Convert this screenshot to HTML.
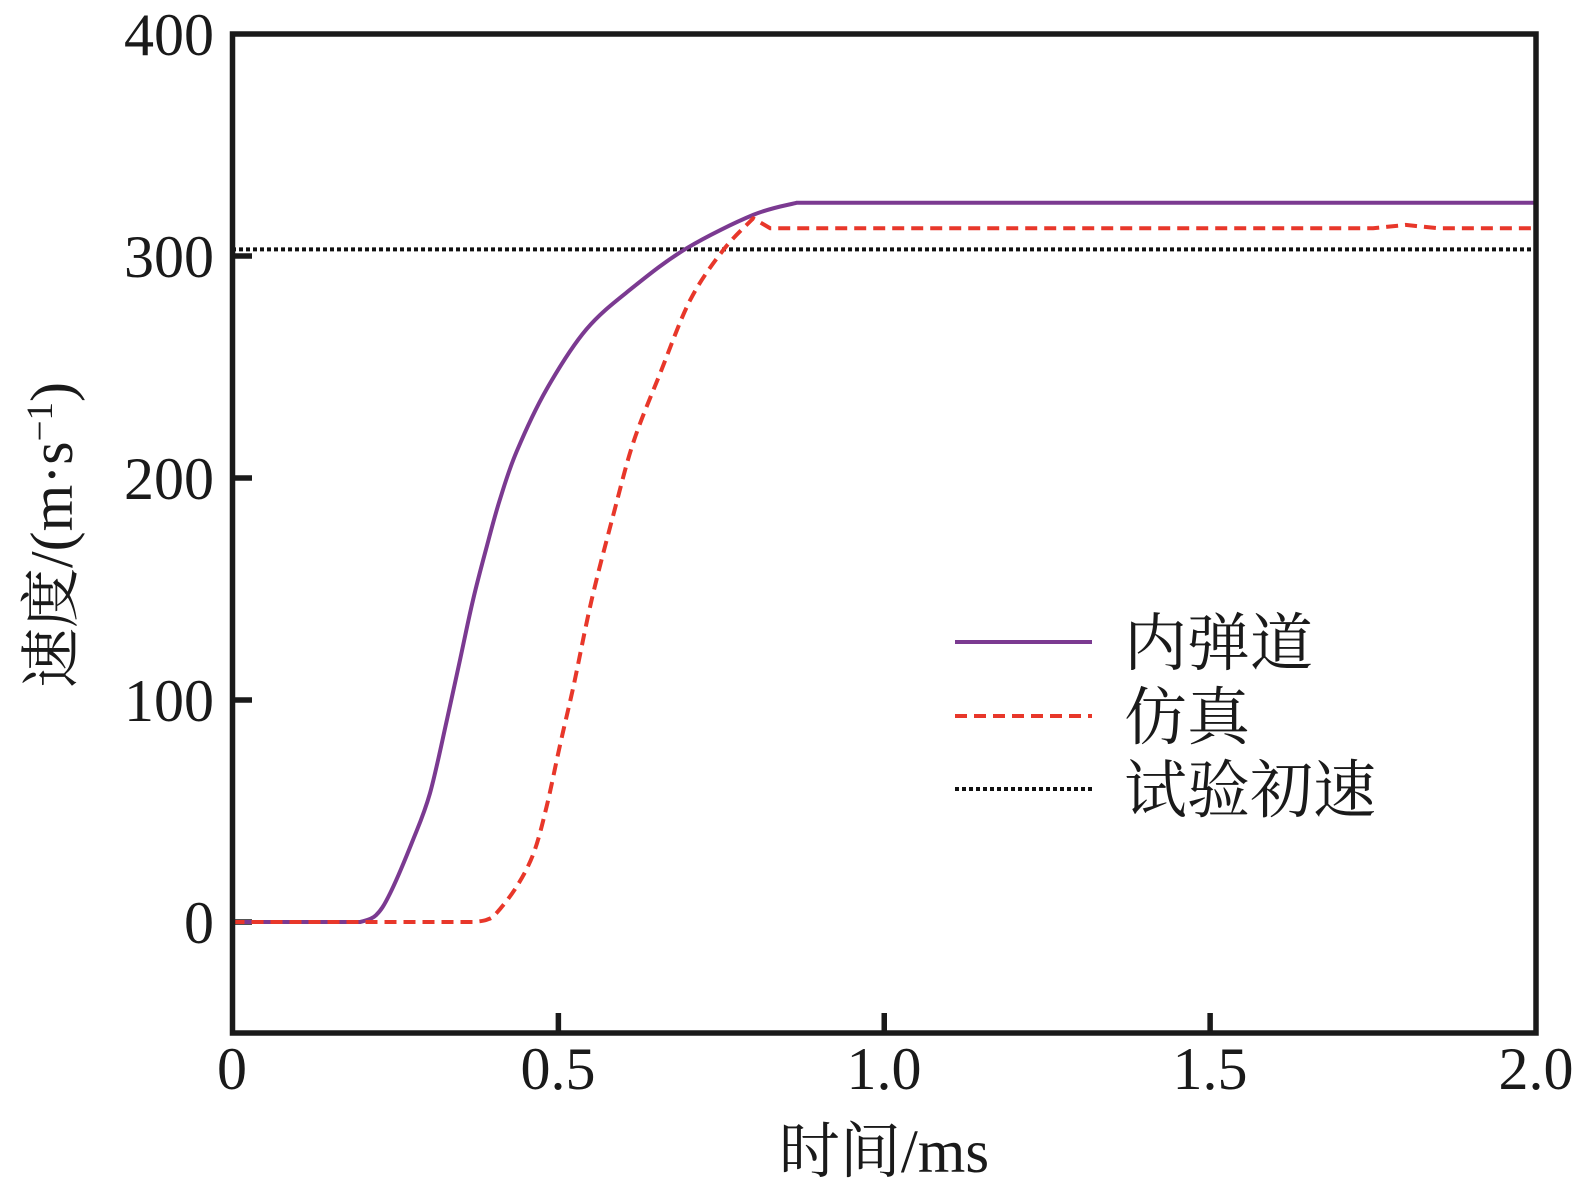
<!DOCTYPE html>
<html><head><meta charset="utf-8"><style>
body{margin:0;background:#fff}
svg{display:block}
text{font-family:"Liberation Serif","Noto Serif CJK SC",serif;fill:#1a1a1a}
</style></head><body>
<svg id="s" width="1592" height="1190" viewBox="0 0 1592 1190" xmlns="http://www.w3.org/2000/svg">
<g id="g"></g>
<rect x="232.5" y="34" width="1303.5" height="999" fill="none" stroke="#1a1a1a" stroke-width="5.5"/>
<g font-size="60" text-anchor="end">
<text x="214" y="55">400</text>
<text x="214" y="277">300</text>
<text x="214" y="499">200</text>
<text x="214" y="721">100</text>
<text x="214" y="943">0</text>
</g>
<g font-size="60" text-anchor="middle">
<text x="232" y="1089">0</text>
<text x="558" y="1089">0.5</text>
<text x="884" y="1089">1.0</text>
<text x="1210" y="1089">1.5</text>
<text x="1536" y="1089">2.0</text>
<text x="884" y="1172" font-size="61">时间/ms</text>
</g>
<text font-size="60" text-anchor="middle" transform="translate(72,535) rotate(-90)">速度/(m·s<tspan font-size="37" dy="-20">−1</tspan><tspan dy="20">)</tspan></text>
<line x1="955" y1="642" x2="1092" y2="642" stroke="#7b3a91" stroke-width="4"/>
<line x1="955" y1="716" x2="1092" y2="716" stroke="#e8372a" stroke-width="4" stroke-dasharray="12,7"/>
<line x1="955" y1="789" x2="1092" y2="789" stroke="#111" stroke-width="4" stroke-dasharray="4,3"/>
<g font-size="63">
<text x="1124" y="665">内弹道</text>
<text x="1124" y="739">仿真</text>
<text x="1124" y="812">试验初速</text>
</g>
</svg>
<script>
var X=function(t){return 232.5+t*651.75},Y=function(v){return 922-v*2.22};
function S(a){var p=a.map(function(q){return[X(q[0]),Y(q[1])]});var d='';
for(var i=0;i<p.length-1;i++){var p0=p[i-1]||p[i],p1=p[i],p2=p[i+1],p3=p[i+2]||p2;
var c1=[p1[0]+(p2[0]-p0[0])/6,p1[1]+(p2[1]-p0[1])/6],c2=[p2[0]-(p3[0]-p1[0])/6,p2[1]-(p3[1]-p1[1])/6];
d+=' C'+c1.map(function(v){return v.toFixed(1)}).join(' ')+' '+c2.map(function(v){return v.toFixed(1)}).join(' ')+' '+p2[0].toFixed(1)+' '+p2[1].toFixed(1);}
return d;}
var pur=[[0.196,0],[0.22,3],[0.242,13],[0.277,37],[0.303,58],[0.329,91],[0.349,118],[0.369,145],[0.39,169],[0.41,190],[0.436,212],[0.482,240],[0.543,267],[0.615,286],[0.697,303.5],[0.799,318.5],[0.866,324]];
var red=[[0.37,0],[0.39,1],[0.405,4],[0.436,16],[0.462,31],[0.482,52],[0.502,79],[0.523,106],[0.551,145],[0.584,183],[0.615,216],[0.656,247],[0.702,280],[0.753,302.7],[0.799,317]];
var g=document.getElementById('g');
var s='';
s+='<g stroke="#1a1a1a" stroke-width="5.5">';
[0,100,200,300].forEach(function(v){s+='<line x1="232" x2="252" y1="'+Y(v)+'" y2="'+Y(v)+'"/>'});
[0.5,1,1.5].forEach(function(t){s+='<line y1="1033" y2="1013" x1="'+X(t)+'" x2="'+X(t)+'"/>'});
s+='</g>';
s+='<line x1="232" x2="1536" y1="'+Y(303)+'" y2="'+Y(303)+'" stroke="#111" stroke-width="4" stroke-dasharray="4,3"/>';
var pd='M'+X(0)+' '+Y(0)+' L'+X(0.196)+' '+Y(0)+S(pur)+' L'+X(2)+' '+Y(324);
s+='<path d="'+pd+'" fill="none" stroke="#7b3a91" stroke-width="4" stroke-linejoin="round"/>';
var rd='M'+X(0)+' '+Y(0)+' L'+X(0.37)+' '+Y(0)+S(red)+' L'+X(0.825)+' '+Y(312.5)+' L'+X(1.75)+' '+Y(312.5)+' L'+X(1.8)+' '+Y(314)+' L'+X(1.85)+' '+Y(312.5)+' L'+X(2)+' '+Y(312.5);
s+='<path d="'+rd+'" fill="none" stroke="#e8372a" stroke-width="4" stroke-dasharray="12,7" stroke-linejoin="round"/>';
g.innerHTML=s;
</script>
</body></html>
